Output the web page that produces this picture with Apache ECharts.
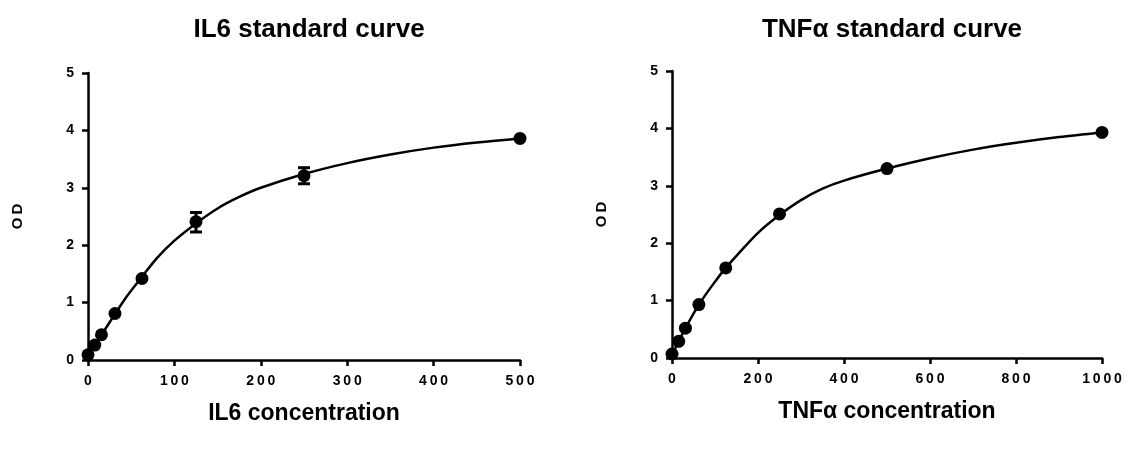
<!DOCTYPE html>
<html>
<head>
<meta charset="utf-8">
<script src="https://cdn.jsdelivr.net/npm/echarts@6/dist/echarts.min.js"></script>
<style>
  html, body { margin: 0; padding: 0; background: #fff; }
  #chart { width: 1133px; height: 452px; }
</style>
</head>
<body>
<div id="chart"></div>
<script>
// IL6 standards: concentration, mean OD, error bar low/high
const il6Conc = [0, 7.8, 15.6, 31.25, 62.5, 125, 250, 500];
const il6OD = [0.09, 0.26, 0.44, 0.81, 1.42, 2.41, 3.21, 3.86];
const il6ErrLow = [null, null, null, null, null, 2.23, 3.07, null];
const il6ErrHigh = [null, null, null, null, null, 2.57, 3.35, null];
// IL6 fitted curve, sampled
const il6FitX = [0, 5, 10, 20, 31.25, 45, 62.5, 80, 100, 125, 150, 175, 200, 250, 300, 350, 400, 450, 500];
const il6FitY = [0.06, 0.18, 0.30, 0.54, 0.80, 1.11, 1.45, 1.78, 2.08, 2.38, 2.64, 2.84, 3.00, 3.24, 3.43, 3.58, 3.70, 3.79, 3.86];

// TNFα standards
const tnfConc = [0, 15.6, 31.25, 62.5, 125, 250, 500, 1000];
const tnfOD = [0.07, 0.29, 0.52, 0.93, 1.57, 2.51, 3.30, 3.93];
// TNFα fitted curve, sampled
const tnfFitX = [0, 15.6, 31.25, 62.5, 100, 125, 150, 200, 250, 300, 350, 400, 500, 600, 700, 800, 900, 1000];
const tnfFitY = [0.05, 0.29, 0.52, 0.93, 1.33, 1.57, 1.78, 2.18, 2.49, 2.75, 2.95, 3.09, 3.30, 3.48, 3.63, 3.75, 3.85, 3.93];

const il6Ticks = [0, 100, 200, 300, 400, 500];
const tnfTicks = [0, 200, 400, 600, 800, 1000];
const odTicks = [0, 1, 2, 3, 4, 5];

const FONT = 'Liberation Sans, Arial, sans-serif';
const spaced = s => String(s).split('').join('\u2009');

const pairs = (xs, ys) => xs.map((x, i) => [x, ys[i]]);
const errPairs = (xs, lo, hi) => xs.map((x, i) => [x, lo[i], hi[i]]).filter(d => d[1] != null);

function xAxisFor(gridIndex, ticks, name) {
  return {
    gridIndex, type: 'value',
    min: ticks[0], max: ticks[ticks.length - 1], interval: ticks[1] - ticks[0],
    name, nameLocation: 'middle', nameGap: 42,
    nameTextStyle: { fontFamily: FONT, fontWeight: 'bold', fontSize: 23, color: '#000' },
    axisLine: { lineStyle: { color: '#000', width: 2.5 } },
    axisTick: { length: 6, lineStyle: { color: '#000', width: 2.5 } },
    axisLabel: { fontFamily: FONT, fontWeight: 'bold', fontSize: 14, color: '#000', margin: 14, formatter: spaced },
    splitLine: { show: false }
  };
}
function yAxisFor(gridIndex) {
  return {
    gridIndex, type: 'value',
    min: odTicks[0], max: odTicks[odTicks.length - 1], interval: 1,
    name: spaced('OD'), nameLocation: 'middle', nameGap: 63, nameRotate: 90,
    nameTextStyle: { fontFamily: FONT, fontWeight: 'bold', fontSize: 15, color: '#000' },
    axisLine: { show: true, lineStyle: { color: '#000', width: 2.5 } },
    axisTick: { show: true, length: 6, lineStyle: { color: '#000', width: 2.5 } },
    axisLabel: { fontFamily: FONT, fontWeight: 'bold', fontSize: 14, color: '#000', margin: 14 },
    splitLine: { show: false }
  };
}

function curve(idx, data) {
  return {
    type: 'line', xAxisIndex: idx, yAxisIndex: idx, data,
    smooth: 0.3, showSymbol: false,
    lineStyle: { color: '#000', width: 2.5 }, z: 2, silent: true
  };
}
function dots(idx, data) {
  return {
    type: 'scatter', xAxisIndex: idx, yAxisIndex: idx, data,
    symbol: 'circle', symbolSize: 13, itemStyle: { color: '#000', opacity: 1 }, z: 4
  };
}
function errorBars(idx, data) {
  return {
    type: 'custom', xAxisIndex: idx, yAxisIndex: idx, data, z: 5,
    renderItem: (params, api) => {
      const x = api.value(0);
      const lo = api.coord([x, api.value(1)]);
      const hi = api.coord([x, api.value(2)]);
      const cap = 6;
      const style = { stroke: '#000', lineWidth: 3 };
      return {
        type: 'group',
        children: [
          { type: 'line', shape: { x1: lo[0], y1: lo[1], x2: hi[0], y2: hi[1] }, style },
          { type: 'line', shape: { x1: lo[0] - cap, y1: lo[1], x2: lo[0] + cap, y2: lo[1] }, style },
          { type: 'line', shape: { x1: hi[0] - cap, y1: hi[1], x2: hi[0] + cap, y2: hi[1] }, style }
        ]
      };
    }
  };
}

const chart = echarts.init(document.getElementById('chart'), null, { renderer: 'canvas' });
chart.setOption({
  animation: false,
  backgroundColor: '#fff',
  title: [
    { text: 'IL6 standard curve', left: 304, top: 12, textAlign: 'center',
      textStyle: { fontFamily: FONT, fontWeight: 'bold', fontSize: 26, color: '#000' } },
    { text: 'TNFα standard curve', left: 887, top: 12, textAlign: 'center',
      textStyle: { fontFamily: FONT, fontWeight: 'bold', fontSize: 26, color: '#000' } }
  ],
  grid: [
    { left: 88, top: 73, width: 432, height: 287 },
    { left: 672, top: 71, width: 430, height: 287 }
  ],
  xAxis: [xAxisFor(0, il6Ticks, 'IL6 concentration'), xAxisFor(1, tnfTicks, 'TNFα concentration')],
  yAxis: [yAxisFor(0), yAxisFor(1)],
  series: [
    curve(0, pairs(il6FitX, il6FitY)),
    errorBars(0, errPairs(il6Conc, il6ErrLow, il6ErrHigh)),
    dots(0, pairs(il6Conc, il6OD)),
    curve(1, pairs(tnfFitX, tnfFitY)),
    dots(1, pairs(tnfConc, tnfOD))
  ]
});
</script>
</body>
</html>
